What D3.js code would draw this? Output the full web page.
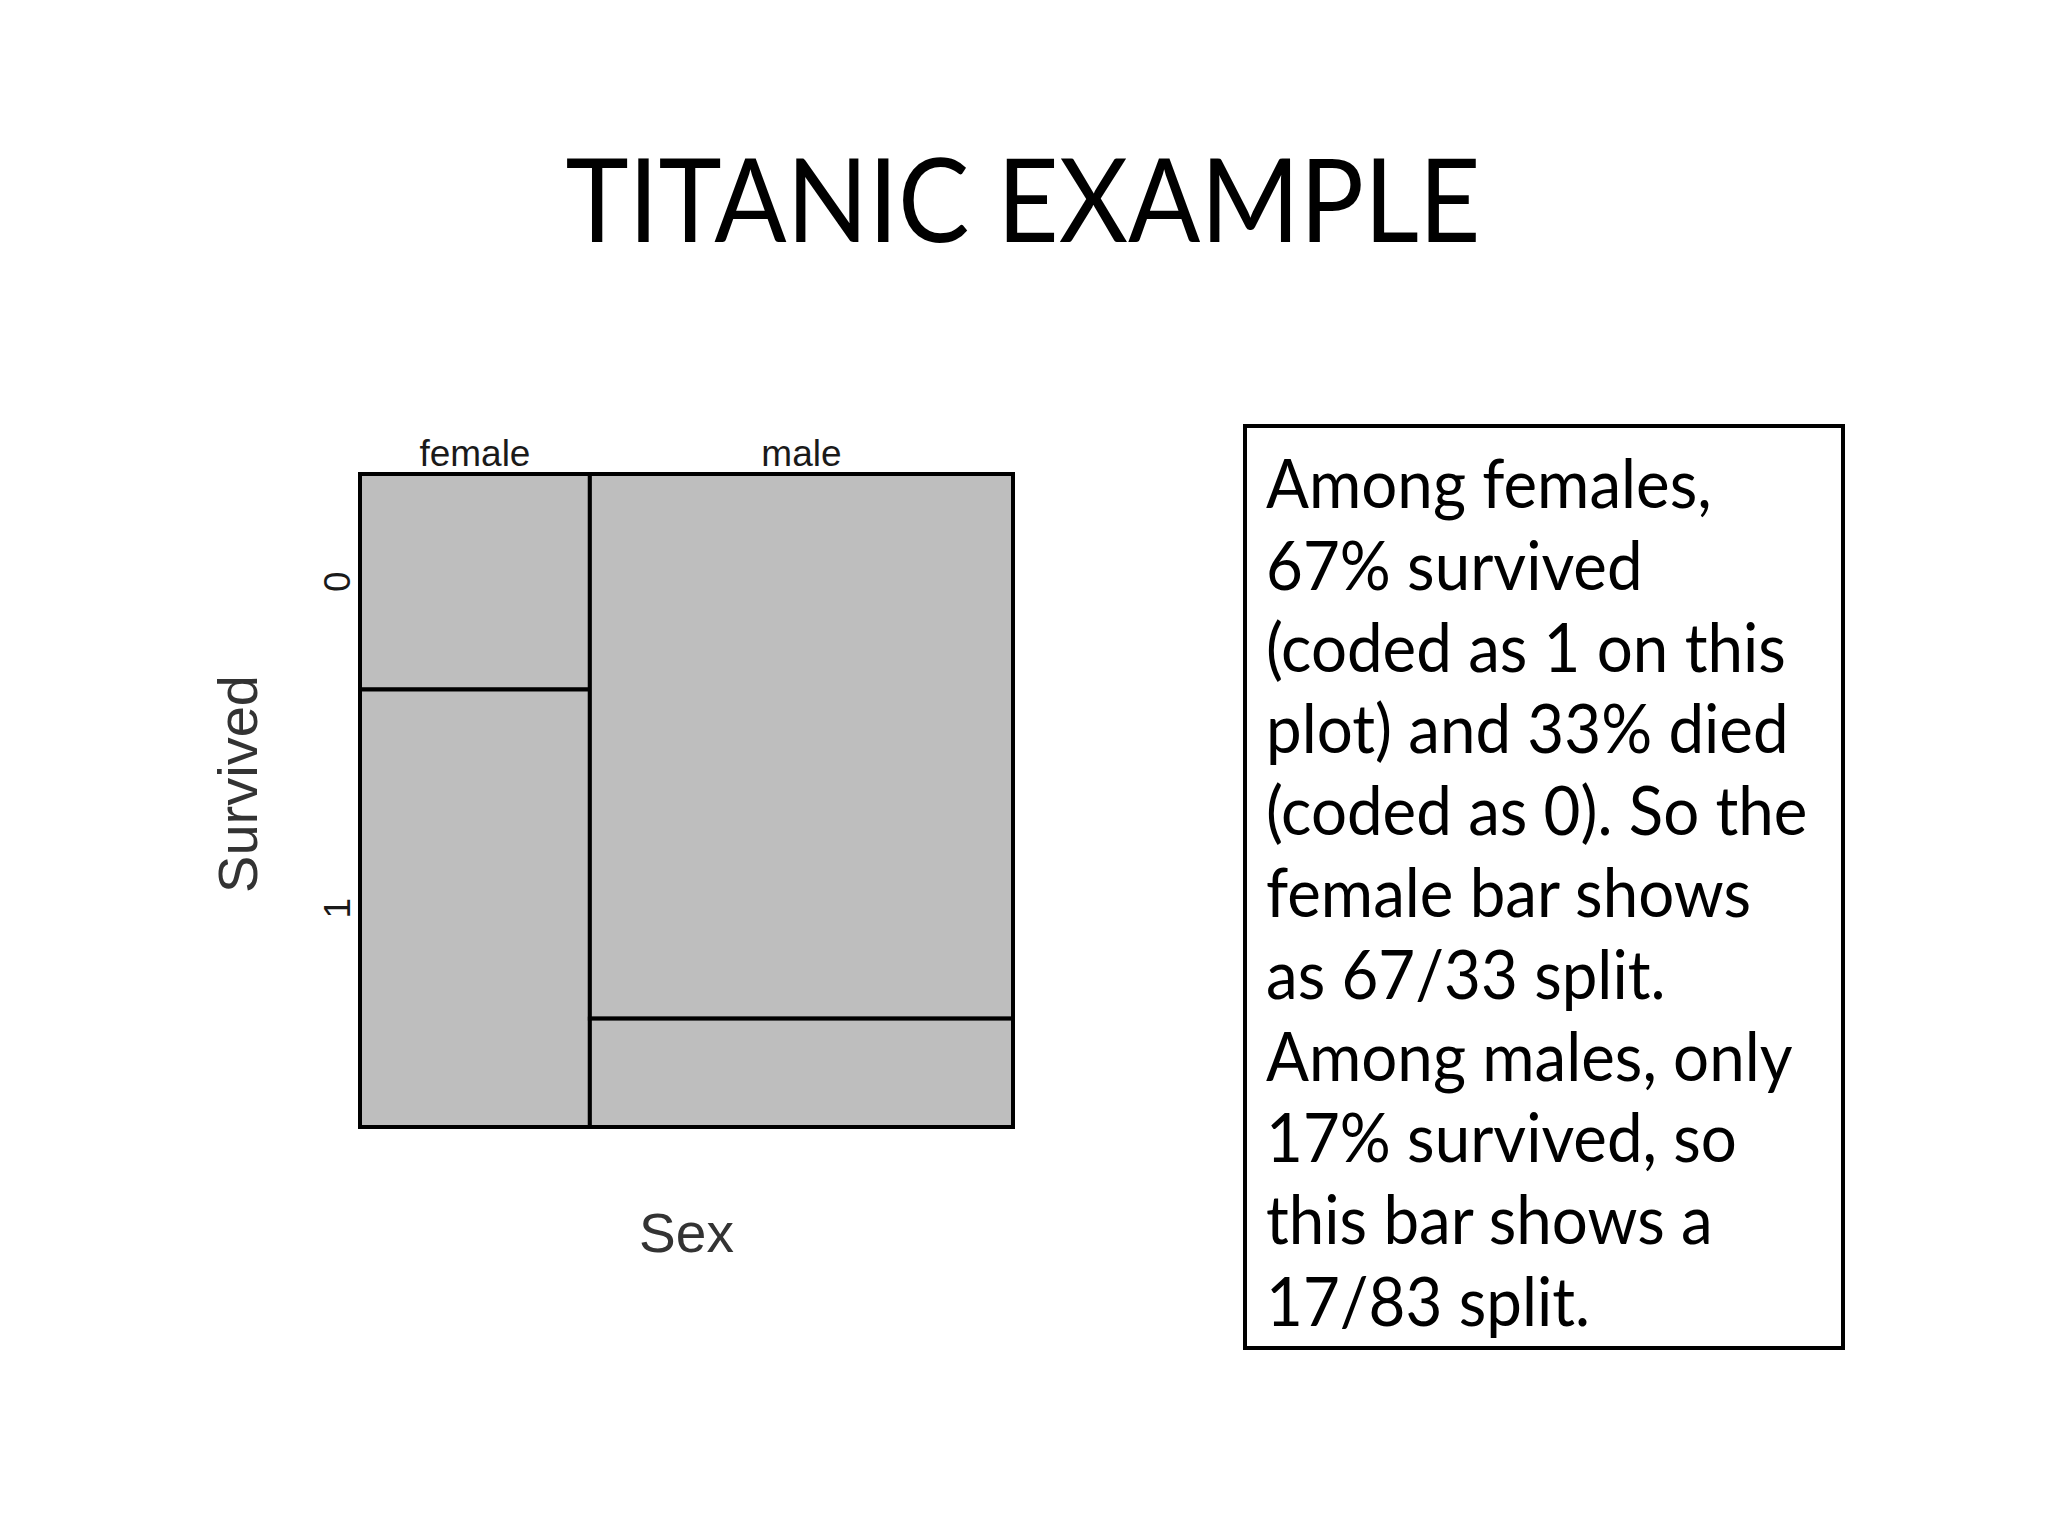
<!DOCTYPE html>
<html>
<head>
<meta charset="utf-8">
<script src="https://cdn.jsdelivr.net/npm/d3@7"></script>
<style>
  html, body { margin: 0; padding: 0; background: #fff; }
  svg { display: block; }
  .rlab { font-family: "Liberation Sans", Arial, sans-serif; fill: #1a1a1a; }
  .slide { font-family: Lato, "Open Sans", sans-serif; fill: #000; }
</style>
</head>
<body>
<div id="chart"></div>
<script>
// mosaic data
const sexes = ["female", "male"];
const sexShare = [0.352, 0.648];          // column widths
const survivedLevels = ["0", "1"];
const femaleSplit = [0.33, 0.67];          // died (0), survived (1)
const maleSplit = [0.834, 0.166];
const splits = [femaleSplit, maleSplit];

const titleText = "TITANIC EXAMPLE";
const noteLines = [
  "Among females,",
  "67% survived",
  "(coded as 1 on this",
  "plot) and 33% died",
  "(coded as 0). So the",
  "female bar shows",
  "as 67/33 split.",
  "Among males, only",
  "17% survived, so",
  "this bar shows a",
  "17/83 split."
];

const W = 2048, H = 1536;
const svg = d3.select("#chart").append("svg")
    .attr("width", W)
    .attr("height", H);

// title (Lato is a bit wider than the slide font, squeeze it)
svg.append("text")
    .attr("class", "slide")
    .attr("transform", "translate(1023,242) scale(0.922,1)")
    .attr("text-anchor", "middle")
    .style("font-size", "116px")
    .text(titleText);

// plot area
const plot = { left: 360, right: 1013, top: 474, bottom: 1127 };
const x = d3.scaleLinear().domain([0, 1]).range([plot.left, plot.right]);
const y = d3.scaleLinear().domain([0, 1]).range([plot.top, plot.bottom]);

// build the cells
const xStarts = [0, ...d3.cumsum(sexShare)];
let cells = [];
sexes.forEach((s, i) => {
    const yStarts = [0, ...d3.cumsum(splits[i])];
    survivedLevels.forEach((lev, j) => {
        cells.push({
            sex: s, level: lev,
            x0: xStarts[i], x1: xStarts[i + 1],
            y0: yStarts[j], y1: yStarts[j + 1]
        });
    });
});

svg.append("g").selectAll("rect")
    .data(cells)
    .enter().append("rect")
    .attr("x", d => x(d.x0))
    .attr("y", d => y(d.y0))
    .attr("width", d => x(d.x1) - x(d.x0))
    .attr("height", d => y(d.y1) - y(d.y0))
    .attr("fill", "#bebebe")
    .attr("stroke", "#000")
    .attr("stroke-width", 4);

// column labels on top
svg.append("g").selectAll("text")
    .data(sexes)
    .enter().append("text")
    .attr("class", "rlab")
    .attr("x", (d, i) => x((xStarts[i] + xStarts[i + 1]) / 2))
    .attr("y", plot.top - 8)
    .attr("text-anchor", "middle")
    .style("font-size", "37px")
    .text(d => d);

// row labels follow the first column's cells
const firstCol = cells.filter(c => c.sex === sexes[0]);
svg.append("g").selectAll("text")
    .data(firstCol)
    .enter().append("text")
    .attr("class", "rlab")
    .attr("transform", d => `translate(${plot.left - 10},${y((d.y0 + d.y1) / 2)}) rotate(-90)`)
    .attr("text-anchor", "middle")
    .style("font-size", "37px")
    .text(d => d.level);

// axis titles
svg.append("text")
    .attr("class", "rlab")
    .attr("x", (plot.left + plot.right) / 2)
    .attr("y", 1252)
    .attr("text-anchor", "middle")
    .style("font-size", "55px")
    .style("fill", "#333")
    .text("Sex");

svg.append("text")
    .attr("class", "rlab")
    .attr("transform", `translate(257,784) rotate(-90)`)
    .attr("text-anchor", "middle")
    .style("font-size", "56px")
    .style("fill", "#333")
    .text("Survived");

// note box
const box = { x: 1245, y: 426, w: 598, h: 922 };
svg.append("rect")
    .attr("x", box.x)
    .attr("y", box.y)
    .attr("width", box.w)
    .attr("height", box.h)
    .attr("fill", "none")
    .attr("stroke", "#000")
    .attr("stroke-width", 4);

svg.append("g").selectAll("text")
    .data(noteLines)
    .enter().append("text")
    .attr("class", "slide")
    .attr("transform", (d, i) => `translate(1266,${508 + i * 81.8}) scale(0.95,1)`)
    .style("font-size", "67px")
    .text(d => d);
</script>
</body>
</html>
